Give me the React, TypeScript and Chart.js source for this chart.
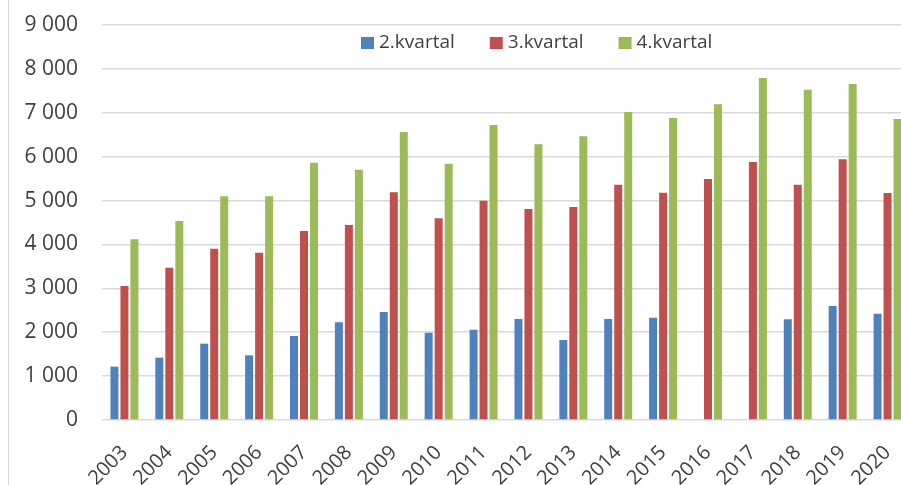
import React, { useEffect, useRef } from 'react';
import { Chart, registerables } from 'chart.js';

Chart.register(...registerables);

const years = ['2003', '2004', '2005', '2006', '2007', '2008', '2009', '2010', '2011', '2012', '2013', '2014', '2015', '2016', '2017', '2018', '2019', '2020'];
const seriesNames = ['2.kvartal', '3.kvartal', '4.kvartal'];
const q2Values = [1215, 1420, 1739, 1473, 1914, 2225, 2461, 1990, 2058, 2301, 1823, 2301, 2331, null, null, 2294, 2597, 2422];
const q3Values = [3053, 3471, 3904, 3813, 4306, 4443, 5187, 4595, 4998, 4808, 4853, 5362, 5180, 5491, 5879, 5362, 5940, 5172];
const q4Values = [4117, 4534, 5096, 5096, 5863, 5704, 6562, 5841, 6722, 6281, 6463, 7018, 6881, 7193, 7792, 7526, 7656, 6858];
const yMin = 0;
const yMax = 9000;
const yStep = 1000;

const seriesColors = ['#4F81BD', '#C0504D', '#9BBB59'];
const textColor = '#404040';
const gridColor = '#D9D9D9';
const fontFamily = '"Open Sans", "Noto Sans", sans-serif';

const formatThousands = (v: number) => String(v).replace(/\B(?=(\d{3})+(?!\d))/g, ' ');

// Legend drawn inside the plot, as in the original (Excel-style, manually placed)
const legendInPlot = {
  id: 'legendInPlot',
  afterDraw(chart: any) {
    const ctx = chart.ctx;
    ctx.save();
    ctx.font = `19px ${fontFamily}`;
    ctx.textBaseline = 'middle';
    ctx.textAlign = 'left';
    const boxW = 13;
    const boxH = 12;
    const textGap = 5;
    const itemGap = 35;
    const centerY = 43;
    let x = 361;
    chart.data.datasets.forEach((ds: any) => {
      ctx.fillStyle = ds.backgroundColor;
      ctx.fillRect(x, centerY - boxH / 2, boxW, boxH);
      ctx.fillStyle = textColor;
      const tx = x + boxW + textGap;
      ctx.fillText(ds.label, tx, centerY);
      x = tx + ctx.measureText(ds.label).width + itemGap;
    });
    ctx.restore();
  },
};

export default function App() {
  const canvasRef = useRef<HTMLCanvasElement | null>(null);

  useEffect(() => {
    const canvas = canvasRef.current;
    if (!canvas) return;
    const values = [q2Values, q3Values, q4Values];
    const chart = new Chart(canvas, {
      type: 'bar',
      data: {
        labels: years,
        datasets: seriesNames.map((name, i) => ({
          label: name,
          data: values[i],
          backgroundColor: seriesColors[i],
          borderWidth: 0,
          categoryPercentage: 0.668,
          barPercentage: 0.8,
        })),
      },
      options: {
        animation: false,
        responsive: false,
        devicePixelRatio: 1,
        layout: { padding: { top: 25, left: 0, right: 0, bottom: 0 } },
        plugins: {
          tooltip: { enabled: false },
          legend: { display: false },
        },
        scales: {
          x: {
            grid: { display: false, drawTicks: false },
            border: { display: false },
            ticks: {
              color: textColor,
              font: { family: fontFamily, size: 20 },
              minRotation: 45,
              maxRotation: 45,
              padding: 21,
              autoSkip: false,
            },
            afterFit: (s: any) => {
              s.height = 65;
              s.paddingLeft = 0;
              s.paddingRight = 0;
            },
          },
          y: {
            min: yMin,
            max: yMax,
            grid: { color: gridColor, lineWidth: 1.5, drawTicks: false },
            border: { display: false },
            ticks: {
              stepSize: yStep,
              color: textColor,
              font: { family: fontFamily, size: 21 },
              padding: 24,
              callback: (v: any) => formatThousands(Number(v)),
            },
            afterFit: (s: any) => {
              s.width = 102;
              s.paddingTop = 0;
              s.paddingBottom = 0;
            },
          },
        },
      },
      plugins: [legendInPlot],
    } as any);
    return () => chart.destroy();
  }, []);

  return (
    <div style={{ position: 'fixed', left: 0, top: 0, width: 901, height: 485, overflow: 'hidden', background: '#ffffff' }}>
      <canvas ref={canvasRef} width={910} height={485} style={{ display: 'block', width: 910, height: 485 }} />
      <div style={{ position: 'absolute', left: 8, top: 0, width: 1, height: 485, background: gridColor }} />
    </div>
  );
}
